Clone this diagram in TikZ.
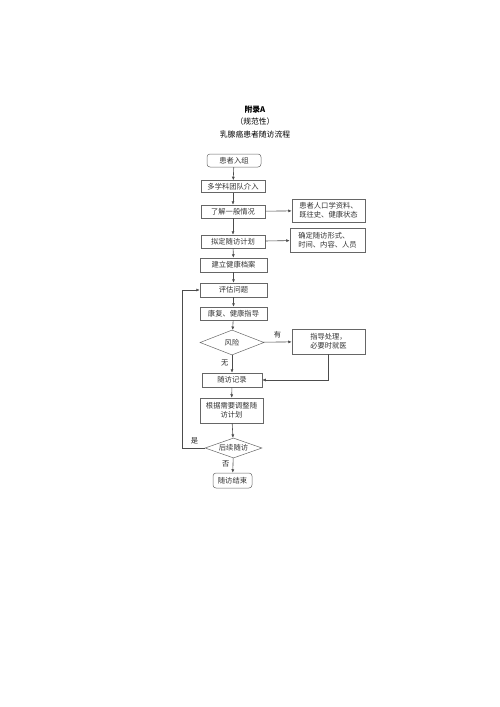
\documentclass[tikz,border=0pt]{standalone}
\usepackage{fontspec}
\setmainfont{Noto Sans CJK SC}
\usetikzlibrary{shapes.geometric,arrows.meta}
\begin{document}
\begin{tikzpicture}[x=1pt,y=-1pt,
  box/.style={draw=black!60, line width=0.5pt, text=black!80, inner sep=0pt, font=\fontsize{7.3}{9}\selectfont, align=center},
  endbox/.style={box, rounded corners=3pt},
  choice/.style={draw=black!60, line width=0.5pt, diamond, aspect=2.6, inner sep=0pt, text=black!80, font=\fontsize{7.3}{9}\selectfont},
  lbl/.style={text=black!85, font=\fontsize{7.3}{9}\selectfont},
  arr/.style={draw=black!70, line width=0.6pt, -{Latex[length=3.5pt,width=3pt]}},
  ttl/.style={font=\fontsize{7.8}{9}\selectfont}]
\useasboundingbox (0,0) rectangle (500,707);
\node[ttl] (t1) at (255,110){\textbf{附录A}};
\node[ttl] (t2) at (255,122){（规范性）};
\node[ttl] (t3) at (255,135){乳腺癌患者随访流程};
\node[endbox, minimum width=54pt, minimum height=13pt] (n1) at (234,160.5){患者入组};
\node[box, minimum width=64pt, minimum height=12pt] (n2) at (233,186.5){多学科团队介入};
\node[box, minimum width=64pt, minimum height=13pt] (n3) at (233,211.5){了解一般情况};
\node[box, minimum width=73pt, minimum height=23pt, align=left] (r1) at (328.5,210.5){患者人口学资料、\\既往史、健康状态};
\node[box, minimum width=64pt, minimum height=13pt] (n4) at (233,241.5){拟定随访计划};
\node[box, minimum width=75pt, minimum height=24pt, align=left] (r2) at (327.5,240){确定随访形式、\\时间、内容、人员};
\node[box, minimum width=67pt, minimum height=14pt] (n5) at (233.5,265){建立健康档案};
\node[box, minimum width=67pt, minimum height=14pt] (n6) at (233.5,290){评估问题};
\node[box, minimum width=67pt, minimum height=13pt] (n7) at (233.5,313.5){康复、健康指导};
\node[choice, minimum width=64pt, minimum height=25pt] (d1) at (232,342.5){风险};
\node[box, minimum width=73pt, minimum height=25pt] (r3) at (328.5,341.5){指导处理，\\必要时就医};
\node[box, minimum width=60pt, minimum height=14pt] (n8) at (232,380){随访记录};
\node[box, minimum width=63pt, minimum height=25pt] (n9) at (231.5,410.5){根据需要调整随\\访计划};
\node[choice, minimum width=57pt, minimum height=20pt] (d2) at (233.5,448){后续随访};
\node[endbox, minimum width=39pt, minimum height=15pt] (n10) at (232.5,480.5){随访结束};
\coordinate (c1) at (182,448);
\coordinate (c2) at (182,290);
\coordinate (c3) at (328.5,380);
\draw[arr](n1) -- (n2);
\draw[arr](n2) -- (n3);
\draw[arr](n3) -- (n4);
\draw[arr](n3) -- (r1);
\draw[arr](n4) -- (r2);
\draw[arr](n4) -- (n5);
\draw[arr](n5) -- (n6);
\draw[arr](n6) -- (n7);
\draw[arr](n7) -- (d1);
\draw[arr](d1) -- node[lbl, above]{有} (r3);
\draw[arr](d1) -- node[lbl, left, pos=0.45]{无} (n8);
\draw[arr](r3) -- (c3) -- (n8);
\draw[arr](n8) -- (n9);
\draw[arr](n9) -- (d2);
\draw[arr](d2) -- node[lbl, left, pos=0.4]{否} (n10);
\draw[arr](d2.west) -- node[lbl, above, pos=0.45]{是} (c1) -- (c2) -- (n6.west);
\end{tikzpicture}
\end{document}
